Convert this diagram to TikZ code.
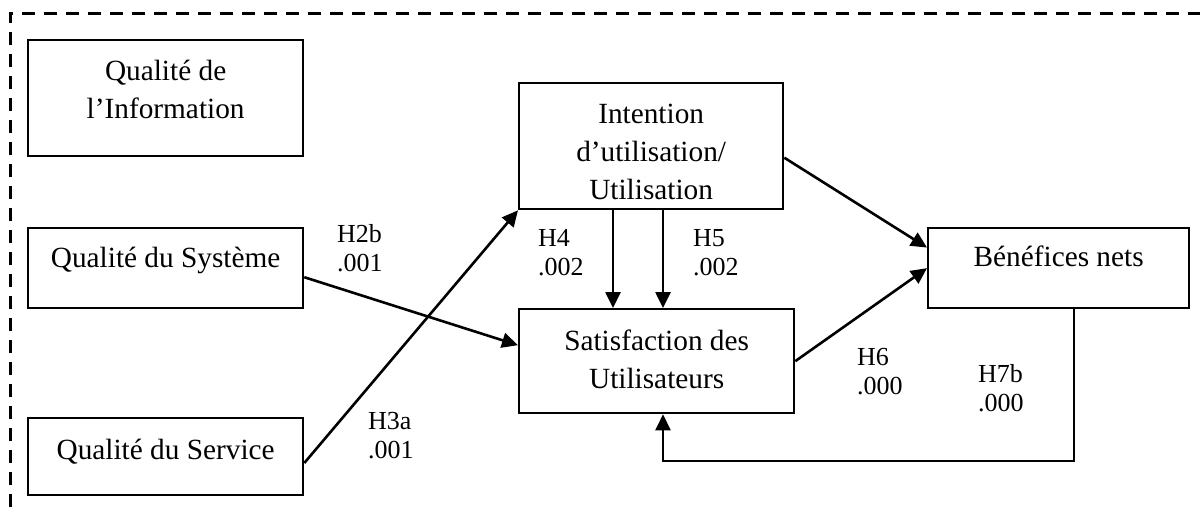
\documentclass[tikz,border=0pt]{standalone}
\usepackage{fontspec}
\setmainfont{Liberation Serif}
\usetikzlibrary{arrows.meta,calc}
\newcommand{\boxfont}{\fontsize{29.3}{38}\selectfont}
\newcommand{\hypfont}{\fontsize{26}{29.5}\selectfont}
\begin{document}
\begin{tikzpicture}[x=1pt,y=-1pt,
  construct/.style={draw, line width=2.3pt, inner sep=0pt, font=\boxfont, anchor=north west},
  hyp/.style={inner sep=0pt, font=\hypfont, anchor=base west},
  arr/.style={line width=2.6pt, -{Triangle[length=16pt,width=15pt]}},
  frame/.style={line width=3pt, dash pattern=on 13pt off 9pt}]

\useasboundingbox (0,0) rectangle (1200,507);

% open dashed frame (top and left sides)
\draw[frame] (10,507) -- (10,13) -- (1200,13);

% constructs
\node[construct, minimum width=275pt, text height=78pt, text depth=38pt] (info) at (27,39)
  {\begin{tabular}[b]{@{}c@{}}Qualité de\\ l’Information\end{tabular}};
\node[construct, minimum width=275pt, text height=39pt, text depth=41pt] (sys) at (27,227)
  {Qualité du Système};
\node[construct, minimum width=275pt, text height=41pt, text depth=36pt] (serv) at (27,417)
  {Qualité du Service};
\node[construct, minimum width=264pt, text height=116pt, text depth=10pt] (int) at (518,82)
  {\begin{tabular}[b]{@{}c@{}}Intention\\ d’utilisation/\\ Utilisation\end{tabular}};
\node[construct, minimum width=275pt, text height=79pt, text depth=25pt] (sat) at (518,308)
  {\begin{tabular}[b]{@{}c@{}}Satisfaction des\\ Utilisateurs\end{tabular}};
\node[construct, minimum width=261pt, text height=38pt, text depth=42pt] (ben) at (927,227)
  {Bénéfices nets};

% hypothesis labels
\node[hyp] (h2b) at (337,242) {\begin{tabular}[t]{@{}l@{}}H2b\\ .001\end{tabular}};
\node[hyp] (h3a) at (368,429) {\begin{tabular}[t]{@{}l@{}}H3a\\ .001\end{tabular}};
\node[hyp] (h4)  at (538,246) {\begin{tabular}[t]{@{}l@{}}H4\\ .002\end{tabular}};
\node[hyp] (h5)  at (693,246) {\begin{tabular}[t]{@{}l@{}}H5\\ .002\end{tabular}};
\node[hyp] (h6)  at (857,365) {\begin{tabular}[t]{@{}l@{}}H6\\ .000\end{tabular}};
\node[hyp] (h7b) at (978,382) {\begin{tabular}[t]{@{}l@{}}H7b\\ .000\end{tabular}};

% helper x positions for vertical links and the feedback loop
\coordinate (x4) at (613,0);
\coordinate (x5) at (663,0);
\coordinate (fb) at (1074,461);

% links
\draw[arr] ($(sys.north east)!0.61!(sys.south east)$) -- ($(sat.north west)!0.35!(sat.south west)$);
\draw[arr] ($(serv.north east)!0.58!(serv.south east)$) -- (int.south west);
\draw[arr] (int.south -| x4) -- (sat.north -| x4);
\draw[arr] (int.south -| x5) -- (sat.north -| x5);
\draw[arr] ($(int.north east)!0.59!(int.south east)$) -- ($(ben.north west)!0.25!(ben.south west)$);
\draw[arr] (sat.east) -- ($(ben.north west)!0.5!(ben.south west)$);
\draw[arr] (ben.south -| fb) -- (fb) -| (sat.south -| x5);

\end{tikzpicture}
\end{document}
